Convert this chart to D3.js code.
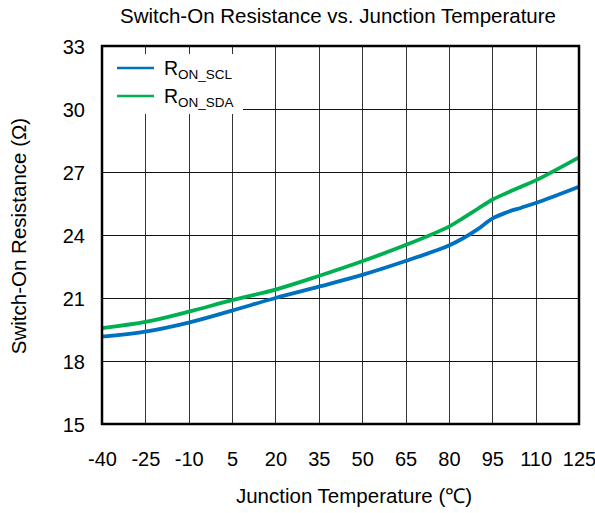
<!DOCTYPE html>
<html>
<head>
<meta charset="utf-8">
<script src="https://cdn.jsdelivr.net/npm/d3@7"></script>
<style>
  body { margin: 0; background: #fff; }
  svg text { font-family: "Liberation Sans", Arial, sans-serif; fill: #000; }
</style>
</head>
<body>
<div id="chart"></div>
<script>
var temps = [-40, -25, -10, 5, 20, 35, 50, 65, 80, 85, 90, 95, 100, 105, 110, 125];
var r_on_scl = [19.16, 19.40, 19.83, 20.40, 21.0, 21.54, 22.1, 22.76, 23.5, 23.85, 24.28, 24.78, 25.08, 25.3, 25.52, 26.3];
var r_on_sda = [19.57, 19.86, 20.35, 20.9, 21.4, 22.05, 22.75, 23.52, 24.4, 24.82, 25.25, 25.68, 26.0, 26.3, 26.6, 27.7];
var x_ticks = [-40, -25, -10, 5, 20, 35, 50, 65, 80, 95, 110, 125];
var y_ticks = [15, 18, 21, 24, 27, 30, 33];
var series_names = ["ON_SCL", "ON_SDA"];
var series_colors = ["#0070C0", "#00B050"];

var width = 595, height = 513;
var margin = {top: 46, right: 16, bottom: 89, left: 102};

var svg = d3.select("#chart").append("svg")
    .attr("width", width)
    .attr("height", height);

var x = d3.scaleLinear().domain([-40, 125]).range([margin.left, width - margin.right]);
var y = d3.scaleLinear().domain([15, 33]).range([height - margin.bottom, margin.top]);

// gridlines
var grid = svg.append("g").attr("class", "grid");
grid.selectAll("line.v")
    .data(x_ticks)
    .enter().append("line")
    .attr("x1", function(d) { return Math.round(x(d)) + 0.5; })
    .attr("x2", function(d) { return Math.round(x(d)) + 0.5; })
    .attr("y1", y(33))
    .attr("y2", y(15))
    .attr("stroke", "#333")
    .attr("stroke-width", 1);
grid.selectAll("line.h")
    .data(y_ticks)
    .enter().append("line")
    .attr("x1", x(-40))
    .attr("x2", x(125))
    .attr("y1", function(d) { return Math.round(y(d)) + 0.5; })
    .attr("y2", function(d) { return Math.round(y(d)) + 0.5; })
    .attr("stroke", "#111")
    .attr("stroke-width", 1);

// legend background hides the grid
svg.append("rect")
    .attr("x", x(-40) + 1)
    .attr("y", 54)
    .attr("width", 140)
    .attr("height", 60)
    .attr("fill", "#fff");

// curves
var line = d3.line()
    .x(function(d) { return x(d[0]); })
    .y(function(d) { return y(d[1]); })
    .curve(d3.curveCatmullRom.alpha(0.5));

[r_on_scl, r_on_sda].forEach(function(vals, i) {
    svg.append("path")
        .datum(temps.map(function(t, j) { return [t, vals[j]]; }))
        .attr("fill", "none")
        .attr("stroke", series_colors[i])
        .attr("stroke-width", 3.8)
        .attr("d", line);
});

// frame
svg.append("rect")
    .attr("x", x(-40))
    .attr("y", y(33))
    .attr("width", x(125) - x(-40))
    .attr("height", y(15) - y(33))
    .attr("fill", "none")
    .attr("stroke", "#000")
    .attr("stroke-width", 2.5);

// axes
var x_axis = d3.axisBottom(x).tickValues(x_ticks).tickFormat(function(d) { return String(d); })
    .tickSize(0).tickPadding(0);
svg.append("g")
    .attr("transform", "translate(0," + y(15) + ")")
    .call(x_axis)
    .call(function(g) {
        g.select(".domain").remove();
        g.selectAll("text")
            .attr("dy", null)
            .attr("y", 42)
            .style("font-size", "20px");
    });

var y_axis = d3.axisLeft(y).tickValues(y_ticks).tickSize(0).tickPadding(0);
svg.append("g")
    .attr("transform", "translate(" + (margin.left - 17) + ",0)")
    .call(y_axis)
    .call(function(g) {
        g.select(".domain").remove();
        g.selectAll("text")
            .attr("dy", "0.35em")
            .style("font-size", "20px");
    });

// titles
svg.append("text")
    .attr("x", 338)
    .attr("y", 23)
    .attr("text-anchor", "middle")
    .style("font-size", "20.5px")
    .text("Switch-On Resistance vs. Junction Temperature");

svg.append("text")
    .attr("x", 354)
    .attr("y", 503)
    .attr("text-anchor", "middle")
    .style("font-size", "20.5px")
    .text("Junction Temperature (\u2103)");

svg.append("text")
    .attr("transform", "translate(26," + 236 + ")rotate(-90)")
    .attr("text-anchor", "middle")
    .style("font-size", "20.5px")
    .text("Switch-On Resistance (\u03A9)");

// legend
var legend = svg.append("g");
series_names.forEach(function(name, i) {
    var ly = 68 + i * 28;
    legend.append("line")
        .attr("x1", 117)
        .attr("x2", 154)
        .attr("y1", ly)
        .attr("y2", ly)
        .attr("stroke", series_colors[i])
        .attr("stroke-width", 2.5);
    var t = legend.append("text")
        .attr("x", 164)
        .attr("y", ly + 7)
        .style("font-size", "19.5px");
    t.append("tspan").text("R");
    t.append("tspan")
        .attr("dy", 4)
        .style("font-size", "13.5px")
        .text(name);
});
</script>
</body>
</html>
